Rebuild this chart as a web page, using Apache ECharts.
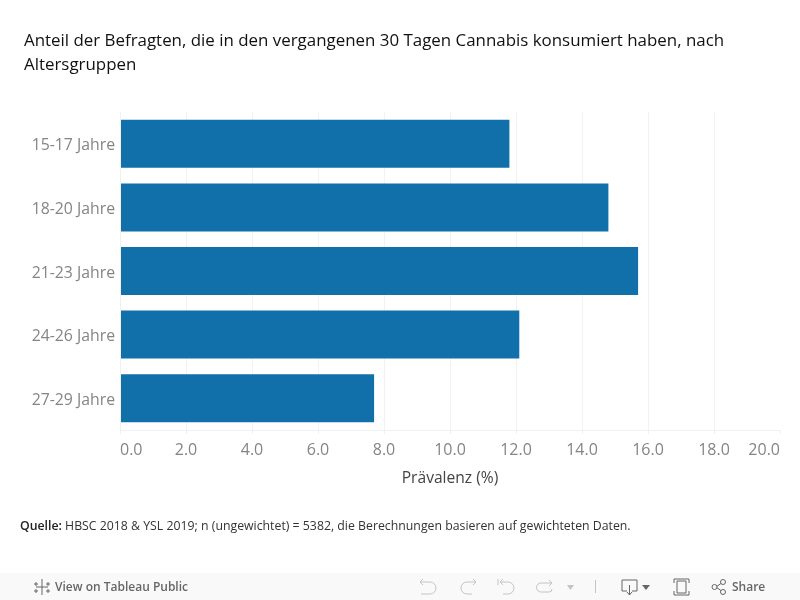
<!DOCTYPE html>
<html><head><meta charset="utf-8">
<style>html,body{margin:0;padding:0;background:#fff}#c{width:800px;height:600px}</style>
<script src="https://cdn.jsdelivr.net/npm/echarts@6/dist/echarts.min.js"></script></head>
<body><div id="c"></div>
<script>
const categories = ['15-17 Jahre','18-20 Jahre','21-23 Jahre','24-26 Jahre','27-29 Jahre'];
const prevalence = [11.8,14.8,15.7,12.1,7.7];
const titleText = 'Anteil der Befragten, die in den vergangenen 30 Tagen Cannabis konsumiert haben, nach\nAltersgruppen';
const axisName = 'Prävalenz (%)';
const sourceLead = 'Quelle:';
const sourceText = ' HBSC 2018 & YSL 2019; n (ungewichtet) = 5382, die Berechnungen basieren auf gewichteten Daten.';
const font = '"Open Sans", sans-serif';
const grey = '#858585', icon = '#c4c4c4', dark = '#666666';
const line = (x1,y1,x2,y2,c,w) => ({type:'line',silent:true,shape:{x1,y1,x2,y2},style:{stroke:c,lineWidth:w||1,fill:null}});
const poly = (points,c) => ({type:'polyline',silent:true,shape:{points},style:{stroke:c,lineWidth:1,fill:null}});
const arc = (cx,cy,r,startAngle,endAngle,c) => ({type:'arc',silent:true,shape:{cx,cy,r,startAngle,endAngle,clockwise:true},style:{stroke:c,lineWidth:1,fill:null}});
const rect = (x,y,width,height,c) => ({type:'rect',silent:true,shape:{x,y,width,height},style:{stroke:c,fill:null,lineWidth:1}});
const H = Math.PI/2;
const chart = echarts.init(document.getElementById('c'),null,{renderer:'canvas'});
chart.setOption({
  animation:false,
  backgroundColor:'#fff',
  title:[{text:titleText,left:24,top:29,padding:0,textStyle:{fontFamily:font,fontSize:16.9,fontWeight:'normal',color:'#111',lineHeight:24}},
    {text:'{b|'+sourceLead+'}{n|'+sourceText+'}',left:20,top:520,padding:0,textStyle:{fontWeight:'normal',rich:{b:{fontFamily:font,fontSize:12.3,fontWeight:600,color:'#222'},n:{fontFamily:font,fontSize:12.3,fontWeight:'normal',color:'#333'}}}}],
  grid:{left:120,top:112,width:660,height:318,containLabel:false},
  xAxis:{type:'value',min:0,max:20,interval:2,
    name:axisName,nameLocation:'middle',nameGap:41,
    nameTextStyle:{fontFamily:font,fontSize:15.6,color:'#444'},
    axisLine:{show:true,onZero:false,lineStyle:{color:'#f0f0f0'}},
    axisTick:{show:true,length:4,lineStyle:{color:'#f0f0f0'}},
    axisLabel:{fontFamily:font,fontSize:16,color:grey,margin:12,alignMinLabel:'left',alignMaxLabel:'right',formatter:v=>v.toFixed(1)},
    splitLine:{show:true,showMaxLine:false,lineStyle:{color:'#f2f2f2'}}},
  yAxis:{type:'category',inverse:true,data:categories,z:3,
    axisLine:{show:true,lineStyle:{color:'#f0f0f0'}},axisTick:{show:false},
    axisLabel:{margin:5,formatter:v=>'{a|'+v+'}',rich:{a:{fontFamily:font,fontSize:15.8,color:grey,padding:[4,0,0,0]}}},splitLine:{show:false}},
  series:[{type:'bar',data:prevalence,barWidth:48,itemStyle:{color:'#1170aa'}}],
  graphic:[
    {type:'rect',silent:true,z:-1,shape:{x:0,y:573,width:800,height:27},style:{fill:'#f9f9f9'}},
    {type:'text',silent:true,style:{x:55,y:582,text:'View on Tableau Public',fontFamily:font,fontSize:12,fontWeight:600,fill:dark}},
    {type:'text',silent:true,style:{x:732,y:582,text:'Share',fontFamily:font,fontSize:12,fontWeight:600,fill:dark}},
    // Tableau mark
    line(42,579,42,595,dark),line(36,587,48,587,dark),line(36,582,36,586,dark),line(48,582,48,586,dark),line(36,589,36,593,dark),line(48,589,48,593,dark),line(34,584,38,584,dark),line(46,584,50,584,dark),line(34,591,38,591,dark),line(46,591,50,591,dark),
    // undo
    poly([[420,582],[430,582]],icon),arc(430,588,6,-H,H,icon),poly([[430,594],[421,594]],icon),poly([[423,579],[420,582],[423,585]],icon),
    // redo
    poly([[476,582],[467,582]],icon),arc(467,588,6,H,3*H,icon),poly([[467,594],[472,594]],icon),poly([[473,579],[476,582],[473,585]],icon),
    // revert
    poly([[500,582],[508,582]],icon),arc(508,588,6,-H,H,icon),poly([[508,594],[503,594]],icon),poly([[503,579],[500,582],[503,585]],icon),line(498,579,498,585,icon),
    // refresh
    poly([[552,583],[541,583]],icon),arc(541,587.5,4.5,H,3*H,icon),poly([[541,592],[549,592]],icon),arc(549,589,3,0,H,icon),poly([[549,580],[552,583],[549,586]],icon),
    {type:'polygon',silent:true,shape:{points:[[567,585],[574,585],[570.5,590]]},style:{fill:icon}},
    line(595.5,580,595.5,593,icon),
    // download
    poly([[627,591],[622,591],[622,580],[637,580],[637,591],[632,591]],dark),line(629.5,585,629.5,595,dark),poly([[627,592],[629.5,595],[632,592]],dark),
    {type:'polygon',silent:true,shape:{points:[[642,585],[650,585],[646,590]]},style:{fill:dark}},
    // fullscreen
    rect(677,581,9,12,dark),
    poly([[674,583],[674,579],[689,579],[689,583]],dark),poly([[674,591],[674,595],[689,595],[689,591]],dark),
    // share
    line(716,587,723,582,dark),line(716,587,723,592,dark),
    {type:'circle',silent:true,shape:{cx:714.5,cy:587,r:2.5},style:{stroke:dark,fill:'#f9f9f9'}},
    {type:'circle',silent:true,shape:{cx:723,cy:582,r:2.5},style:{stroke:dark,fill:'#f9f9f9'}},
    {type:'circle',silent:true,shape:{cx:723,cy:592,r:2.5},style:{stroke:dark,fill:'#f9f9f9'}}
  ]
});
</script></body></html>
